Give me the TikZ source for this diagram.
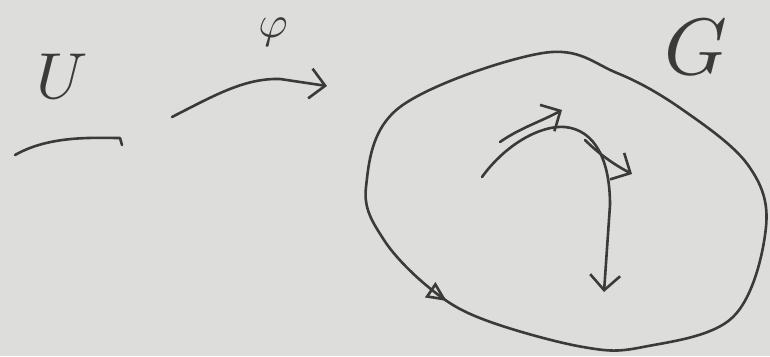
\documentclass[tikz,border=0pt]{standalone}
\usetikzlibrary{arrows.meta,decorations.markings}

\definecolor{board}{RGB}{221,221,219}
\definecolor{ink}{RGB}{58,58,58}

\begin{document}
\begin{tikzpicture}[x=1pt, y=-1pt, >={Straight Barb[length=15pt, width=30pt]},
    pen/.style={ink, line width=2.6pt, line cap=round, line join=round},
    lbl/.style={ink, inner sep=0pt}]
            \fill[board] (0,0) rectangle (770,356);
            \useasboundingbox (0,0) rectangle (770,356);
            % labels
            \node[lbl, scale=6.5] (uname) at (62,76) {$U$};
            \node[lbl, scale=4.5] (phiname) at (273,32) {$\varphi$};
            \node[lbl, scale=8] (gname) at (696,47) {$G$};
            % the set U and the map phi
            \draw[pen] (15,155) .. controls (50,135) and (95,138) .. (120,138) -- (122,145);
            \draw[pen, ->] (172,117) .. controls (215,95) and (245,78) .. (280,79) -- (327,86);
            % the group G
            \draw[pen, decoration={markings, mark=at position 0.215 with {\arrow{Triangle[open, length=20pt, width=18pt]}}}, postaction={decorate}]
                plot[smooth cycle, tension=0.6] coordinates {(543,53) (400,107) (366,187) (384,240) (432,290) (485,320)
                    (583,347) (643,347) (733,317) (766,227) (748,165) (683,110) (617,73)};
            % curve in G with tangent vectors
            \draw[pen, ->] (482,177) .. controls (505,145) and (540,125) .. (565,127)
                .. controls (595,130) and (610,160) .. (610,205) -- (604,292);
            \draw[pen, ->] (500,142) .. controls (520,128) and (540,122) .. (562,110);
            \draw[pen, ->] (585,140) .. controls (600,155) and (615,165) .. (632,174);
\end{tikzpicture}
\end{document}
